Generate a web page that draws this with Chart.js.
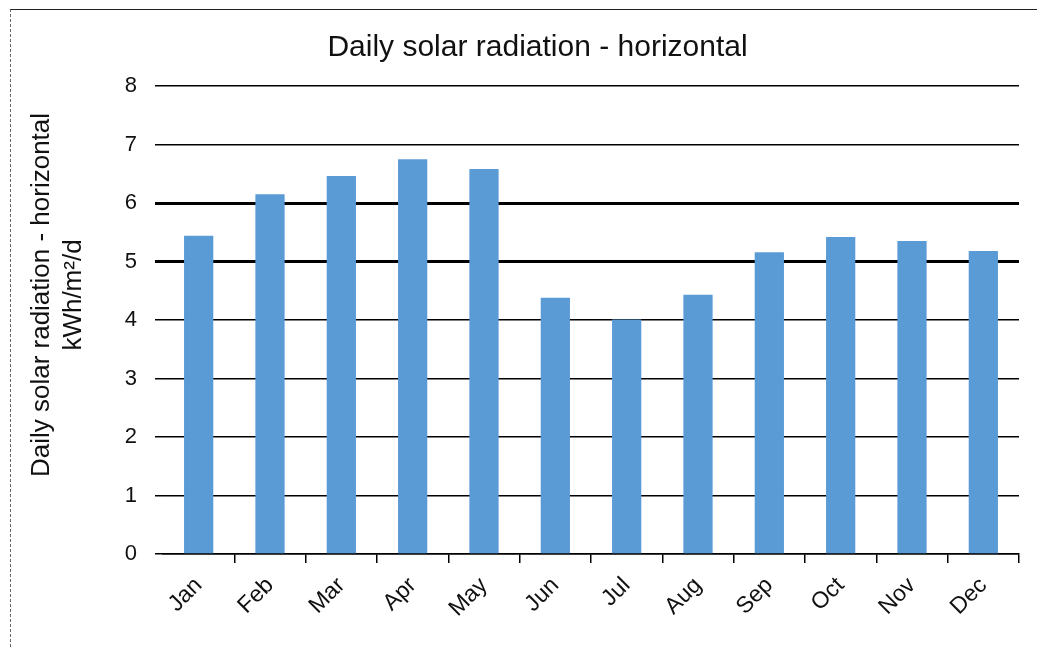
<!DOCTYPE html>
<html>
<head>
<meta charset="utf-8">
<script src="https://cdn.jsdelivr.net/npm/chart.js@4.4.0/dist/chart.umd.min.js"></script>
<style>
  html, body { margin: 0; padding: 0; background: #fff; overflow: hidden; }
  #wrap { position: relative; width: 1075px; height: 647px; }
  #frame { position: absolute; left: 10px; top: 9px; right: 0; bottom: 0; border-top: 1px solid #222; border-left: 1px dashed #666; pointer-events: none; }
</style>
</head>
<body>
<div id="wrap">
  <canvas id="chart" width="1075" height="647" style="width:1075px;height:647px"></canvas>
  <div id="frame"></div>
</div>
<script>
const months = ["Jan", "Feb", "Mar", "Apr", "May", "Jun", "Jul", "Aug", "Sep", "Oct", "Nov", "Dec"];
const radiation = [5.44, 6.15, 6.46, 6.75, 6.58, 4.38, 4.01, 4.43, 5.16, 5.42, 5.35, 5.18];
const yMin = 0;
const yMax = 8;
const yStep = 1;
const chartTitle = "Daily solar radiation - horizontal";
const yTitle = ["Daily solar radiation - horizontal", "kWh/m²/d"];

const font = "'Liberation Sans', Arial, sans-serif";
const textColor = "#111";

// axis title drawn by hand, Excel puts it a bit above the middle
const yTitlePlugin = {
  id: "yTitle",
  afterDraw(chart) {
    const { ctx } = chart;
    ctx.save();
    ctx.font = "26px " + font;
    ctx.fillStyle = textColor;
    ctx.textAlign = "center";
    ctx.textBaseline = "middle";
    ctx.translate(0, 295);
    ctx.rotate(-Math.PI / 2);
    yTitle.forEach((line, i) => ctx.fillText(line, 0, 42 + i * 32));
    ctx.restore();
  },
};

const ctx = document.getElementById("chart");

const chart = new Chart(ctx, {
  type: "bar",
  data: {
    labels: months,
    datasets: [
      {
        label: chartTitle,
        data: radiation,
        backgroundColor: "#5B9BD5",
        borderWidth: 0,
        categoryPercentage: 1,
        barPercentage: 0.41,
      },
    ],
  },
  options: {
    responsive: false,
    animation: false,
    layout: {
      padding: 0,
    },
    plugins: {
      legend: { display: false },
      tooltip: { enabled: false },
      title: {
        display: true,
        text: chartTitle,
        color: textColor,
        font: { family: font, size: 30, weight: "normal" },
        padding: { top: 30, bottom: 20 },
      },
    },
    scales: {
      x: {
        grid: {
          offset: true,
          drawOnChartArea: false,
          drawTicks: true,
          tickLength: 9,
          color: (c) => (c.index === 0 ? "rgba(0,0,0,0)" : "#000"),
          lineWidth: 1.5,
        },
        border: { display: true, color: "#000", width: 1.5 },
        ticks: {
          color: textColor,
          font: { family: font, size: 23 },
          minRotation: 45,
          maxRotation: 45,
          autoSkip: false,
          padding: 9,
        },
        afterFit(scale) {
          scale.height = 93;
        },
      },
      y: {
        min: yMin,
        max: yMax,
        border: { display: false },
        grid: {
          color: "#000",
          lineWidth: (c) => (c.tick && (c.tick.value === 5 || c.tick.value === 6) ? 3 : 1.5),
          drawTicks: true,
          tickLength: 8,
        },
        ticks: {
          stepSize: yStep,
          color: textColor,
          font: { family: font, size: 22 },
          padding: 18,
        },
        afterFit(scale) {
          scale.width = 163;
        },
      },
      // empty right-hand spacer so the title is centred over the whole canvas
      spacer: {
        type: "linear",
        position: "right",
        display: true,
        grid: { display: false },
        border: { display: false },
        ticks: { display: false },
        afterFit(scale) {
          scale.width = 56;
        },
      },
    },
  },
  plugins: [yTitlePlugin],
});
</script>
</body>
</html>
